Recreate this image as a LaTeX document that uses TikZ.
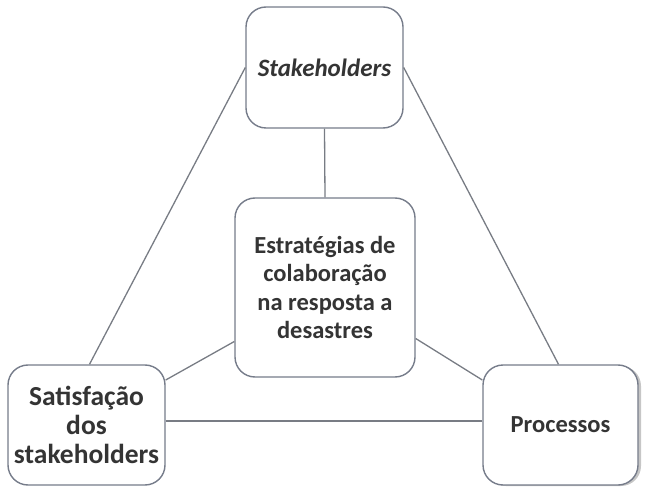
\documentclass[tikz,border=0pt]{standalone}
\usepackage{fontspec}
\setmainfont{Carlito}
\usetikzlibrary{shadows}
\definecolor{boxline}{RGB}{118,124,138}
\definecolor{conline}{RGB}{120,124,132}
\definecolor{txt}{RGB}{52,52,52}
\begin{document}
\begin{tikzpicture}[x=1pt,y=-1pt,
  box/.style={draw=boxline,line width=1.4pt,rounded corners=20pt,fill=white,
    align=center,inner sep=0pt,text=txt,font=\fontsize{24.5}{28.5}\selectfont\bfseries},
  con/.style={draw=conline,line width=1.3pt}]
\useasboundingbox (0,0) rectangle (650,494);
\node[box,minimum width=157pt,minimum height=121pt,font=\fontsize{25}{29}\selectfont\bfseries\itshape] (st) at (324.5,67.5) {Stakeholders};
\node[box,minimum width=180pt,minimum height=179pt] (c) at (325,287.5) {Estratégias de\\colaboração\\na resposta a\\desastres};
\node[box,minimum width=157pt,minimum height=120pt,font=\fontsize{27.5}{29}\selectfont\bfseries] (sat) at (86.5,425) {Satisfação\\dos\\stakeholders};
\node[box,minimum width=155pt,minimum height=120pt,
  drop shadow={shadow xshift=3pt,shadow yshift=-1pt,opacity=0.45,fill=gray}] (pr) at (560.5,425) {Processos};
\draw[con] (st.west) -- ([xshift=3pt]sat.north);
\draw[con] (st.east) -- ([xshift=-2pt]pr.north);
\draw[con] (st.south) -- (c.north);
\draw[con] ([yshift=-54pt]c.west) -- ([yshift=45pt]sat.east);
\draw[con] ([yshift=-51pt]c.east) -- ([yshift=45pt]pr.west);
\draw[con] ([yshift=4pt]sat.east) -- ([yshift=4pt]pr.west);
\end{tikzpicture}
\end{document}
